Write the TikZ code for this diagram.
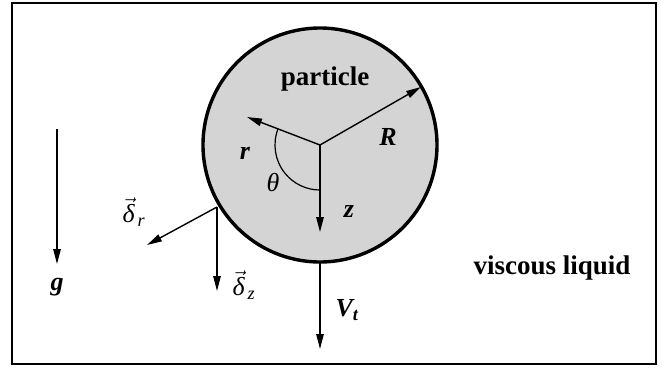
\documentclass[tikz,border=0pt]{standalone}
\usepackage{amsmath}
\usepackage{fontspec}
\setmainfont{Liberation Serif}
\usetikzlibrary{arrows.meta}
\begin{document}
\begin{tikzpicture}[x=1pt,y=-1pt,
  arr/.style={line width=1.4pt,-{Triangle[length=15pt,width=7.5pt]}},
  lbl/.style={inner sep=0pt,font=\fontsize{26}{30}\selectfont},
  blbl/.style={inner sep=0pt,font=\fontsize{27}{32}\selectfont\bfseries}]
\useasboundingbox (0,0) rectangle (662,368);
\draw[line width=2.6pt] (12,3) rectangle (656,364);
% particle
\node[circle,draw,line width=3.4pt,fill=black!17,minimum size=234pt,inner sep=0pt] (p) at (320,145) {};
\coordinate (c) at (320,145);
\coordinate (Rend) at (421,87);
\coordinate (rend) at (247,117);
\coordinate (zend) at (320,232);
\draw[arr] (c) -- (Rend);
\draw[arr] (c) -- (rend);
\draw[arr] (c) -- (zend);
\draw[line width=1.2pt] (c) ++(201:45) arc[start angle=201,end angle=90,radius=45];
% contact point
\coordinate (cp) at (217,207);
\coordinate (drend) at (147,245);
\coordinate (dzend) at (217,291);
\draw[arr] (cp) -- (drend);
\draw[arr] (cp) -- (dzend);
% Vt
\coordinate (vtop) at (320,262);
\coordinate (vend) at (320,349);
\draw[arr] (vtop) -- (vend);
% g
\coordinate (gtop) at (57,129);
\coordinate (gend) at (57,264);
\draw[arr] (gtop) -- (gend);
% labels
\node[blbl] (lp) at (325,79) {particle};
\node[lbl] (lR) at (388,137) {\textbf{\textit{R}}};
\node[lbl] (lr) at (245,153) {\textbf{\textit{r}}};
\node[lbl] (lth) at (273,183) {\textit{θ}};
\node[lbl] (lz) at (349,212) {\textbf{\textit{z}}};
\node[lbl] (lg) at (57,287) {\textbf{\textit{g}}};
\node[lbl] (lvt) at (347,310) {$\text{\bfseries\itshape V}_{\text{\itshape\bfseries t}}$};
\node[lbl] (ldr) at (134,212) {$\vec{\text{\itshape δ}}_{\,\text{\itshape r}}$};
\node[lbl] (ldz) at (244,285) {$\vec{\text{\itshape δ}}_{\,\text{\itshape z}}$};
\node[blbl] (lv) at (552,268) {viscous liquid};
\end{tikzpicture}
\end{document}
